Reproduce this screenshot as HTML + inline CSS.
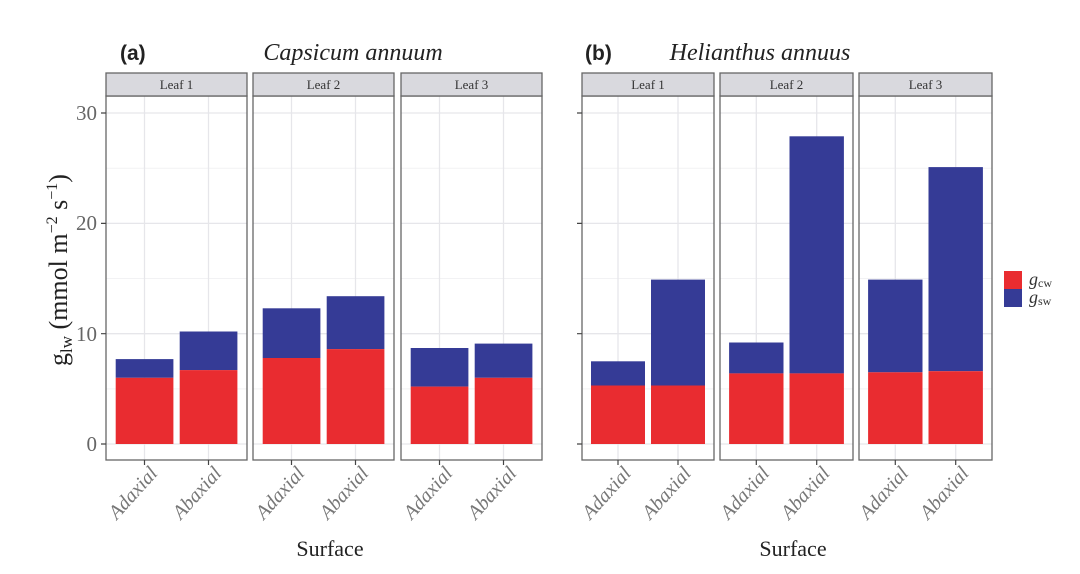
<!DOCTYPE html>
<html><head><meta charset="utf-8"><style>body{margin:0;background:#fff}svg{display:block}</style></head><body>
<svg width="1080" height="574" xmlns="http://www.w3.org/2000/svg" font-family="Liberation Serif, serif">
<rect width="1080" height="574" fill="#fff"/>
<text x="120" y="60" font-family="Liberation Sans, sans-serif" font-weight="bold" font-size="21" fill="#222">(a)</text>
<text x="353" y="60" font-style="italic" font-size="24" text-anchor="middle" fill="#222">Capsicum annuum</text>
<text x="585" y="60" font-family="Liberation Sans, sans-serif" font-weight="bold" font-size="21" fill="#222">(b)</text>
<text x="760" y="60" font-style="italic" font-size="24" text-anchor="middle" fill="#222">Helianthus annuus</text>

<g stroke="#f2f2f4" stroke-width="1">
<path d="M106 388.85H247M106 278.55H247M106 168.25H247"/>
<path d="M253 388.85H394M253 278.55H394M253 168.25H394"/>
<path d="M401 388.85H542M401 278.55H542M401 168.25H542"/>
<path d="M582 388.85H714M582 278.55H714M582 168.25H714"/>
<path d="M720 388.85H853M720 278.55H853M720 168.25H853"/>
<path d="M859 388.85H992M859 278.55H992M859 168.25H992"/>
</g>
<g stroke="#e6e6ea" stroke-width="1.3">
<path d="M106 444H247M106 333.7H247M106 223.4H247M106 113H247"/>
<path d="M253 444H394M253 333.7H394M253 223.4H394M253 113H394"/>
<path d="M401 444H542M401 333.7H542M401 223.4H542M401 113H542"/>
<path d="M582 444H714M582 333.7H714M582 223.4H714M582 113H714"/>
<path d="M720 444H853M720 333.7H853M720 223.4H853M720 113H853"/>
<path d="M859 444H992M859 333.7H992M859 223.4H992M859 113H992"/>
<path d="M144.5 96V460M208.5 96V460M291.5 96V460M355.5 96V460M439.5 96V460M503.5 96V460M618 96V460M678 96V460M756.3 96V460M816.7 96V460M895.3 96V460M955.7 96V460"/>
</g>

<g fill="#353b96">
<rect x="115.7" y="359.1" width="57.7" height="18.7"/>
<rect x="179.7" y="331.5" width="57.7" height="38.6"/>
<rect x="262.7" y="308.3" width="57.7" height="49.7"/>
<rect x="326.7" y="296.2" width="57.7" height="52.9"/>
<rect x="410.7" y="348.0" width="57.7" height="38.6"/>
<rect x="474.7" y="343.6" width="57.7" height="34.2"/>
<rect x="591" y="361.3" width="54" height="24.2"/>
<rect x="651" y="279.6" width="54" height="105.9"/>
<rect x="729.1" y="342.5" width="54.4" height="30.9"/>
<rect x="789.5" y="136.3" width="54.4" height="237.1"/>
<rect x="868.1" y="279.6" width="54.4" height="92.7"/>
<rect x="928.5" y="167.1" width="54.4" height="204.1"/>
</g>
<g fill="#e92c30">
<rect x="115.7" y="377.8" width="57.7" height="66.2"/>
<rect x="179.7" y="370.1" width="57.7" height="73.9"/>
<rect x="262.7" y="358.0" width="57.7" height="86"/>
<rect x="326.7" y="349.1" width="57.7" height="94.9"/>
<rect x="410.7" y="386.6" width="57.7" height="57.4"/>
<rect x="474.7" y="377.8" width="57.7" height="66.2"/>
<rect x="591" y="385.5" width="54" height="58.5"/>
<rect x="651" y="385.5" width="54" height="58.5"/>
<rect x="729.1" y="373.4" width="54.4" height="70.6"/>
<rect x="789.5" y="373.4" width="54.4" height="70.6"/>
<rect x="868.1" y="372.3" width="54.4" height="71.7"/>
<rect x="928.5" y="371.2" width="54.4" height="72.8"/>
</g>

<g stroke="#666" stroke-width="1.3">
<rect x="106" y="96" width="141" height="364" fill="none"/>
<rect x="253" y="96" width="141" height="364" fill="none"/>
<rect x="401" y="96" width="141" height="364" fill="none"/>
<rect x="582" y="96" width="132" height="364" fill="none"/>
<rect x="720" y="96" width="133" height="364" fill="none"/>
<rect x="859" y="96" width="133" height="364" fill="none"/>
<rect x="106" y="73" width="141" height="23" fill="#d9d9de"/>
<rect x="253" y="73" width="141" height="23" fill="#d9d9de"/>
<rect x="401" y="73" width="141" height="23" fill="#d9d9de"/>
<rect x="582" y="73" width="132" height="23" fill="#d9d9de"/>
<rect x="720" y="73" width="133" height="23" fill="#d9d9de"/>
<rect x="859" y="73" width="133" height="23" fill="#d9d9de"/>
</g>
<g font-size="13" fill="#333" text-anchor="middle">
<text x="176.5" y="89">Leaf 1</text><text x="323.5" y="89">Leaf 2</text><text x="471.5" y="89">Leaf 3</text>
<text x="648" y="89">Leaf 1</text><text x="786.5" y="89">Leaf 2</text><text x="925.5" y="89">Leaf 3</text>
</g>

<g stroke="#444" stroke-width="1.2">
<path d="M101 444H106M101 333.7H106M101 223.4H106M101 113H106"/>
<path d="M577 444H582M577 333.7H582M577 223.4H582M577 113H582"/>
<path d="M144.5 460V465M208.5 460V465M291.5 460V465M355.5 460V465M439.5 460V465M503.5 460V465M618 460V465M678 460V465M756.3 460V465M816.7 460V465M895.3 460V465M955.7 460V465"/>
</g>
<g font-size="21" fill="#666" text-anchor="end">
<text x="97" y="451">0</text><text x="97" y="341">10</text><text x="97" y="230">20</text><text x="97" y="120">30</text>
</g>
<g font-size="20" font-style="italic" fill="#777" text-anchor="end">
<text transform="translate(158.5,474) rotate(-48)">Adaxial</text>
<text transform="translate(222.5,474) rotate(-48)">Abaxial</text>
<text transform="translate(305.5,474) rotate(-48)">Adaxial</text>
<text transform="translate(369.5,474) rotate(-48)">Abaxial</text>
<text transform="translate(453.5,474) rotate(-48)">Adaxial</text>
<text transform="translate(517.5,474) rotate(-48)">Abaxial</text>
<text transform="translate(632,474) rotate(-48)">Adaxial</text>
<text transform="translate(692,474) rotate(-48)">Abaxial</text>
<text transform="translate(770.3,474) rotate(-48)">Adaxial</text>
<text transform="translate(830.7,474) rotate(-48)">Abaxial</text>
<text transform="translate(909.3,474) rotate(-48)">Adaxial</text>
<text transform="translate(969.7,474) rotate(-48)">Abaxial</text>
</g>

<text transform="translate(67,270) rotate(-90)" font-size="26" fill="#222" text-anchor="middle">g<tspan font-size="17" dy="5">lw</tspan><tspan dy="-5"> (mmol  m</tspan><tspan font-size="16" dy="-10">−2</tspan><tspan dy="10"> s</tspan><tspan font-size="16" dy="-10">−1</tspan><tspan dy="10">)</tspan></text>
<text x="330" y="556" font-size="22" text-anchor="middle" fill="#222">Surface</text>
<text x="793" y="556" font-size="22" text-anchor="middle" fill="#222">Surface</text>
<rect x="1004" y="271" width="18" height="18" fill="#e92c30"/>
<rect x="1004" y="289" width="18" height="18" fill="#353b96"/>
<text x="1029" y="285" font-size="18" font-style="italic" fill="#333">g<tspan font-size="12" font-style="normal" dy="2">cw</tspan></text>
<text x="1029" y="303" font-size="18" font-style="italic" fill="#333">g<tspan font-size="12" font-style="normal" dy="2">sw</tspan></text>
</svg>
</body></html>
